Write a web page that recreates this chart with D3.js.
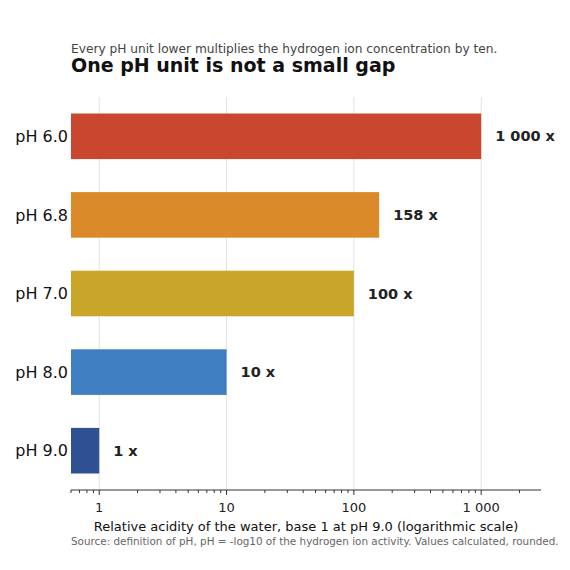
<!DOCTYPE html>
<html><head><meta charset="utf-8">
<script src="https://cdn.jsdelivr.net/npm/d3@7"></script>
<style>body{margin:0;background:#fff}text{font-family:"DejaVu Sans",sans-serif}</style>
</head><body><svg id="c" width="570" height="570"></svg>
<script>
const categories=["pH 6.0","pH 6.8","pH 7.0","pH 8.0","pH 9.0"];
const values=[1000,158,100,10,1];
const colors=["#c9472f","#db8a2a","#c9a52a","#3f7fc1","#2f5193"];
const tickValues=[1,10,100,1000];
const svg=d3.select("#c");
const fmt=v=>d3.format(",")(v).replace(/,/g," ");
const x=d3.scaleLog().domain([0.6,2950]).range([71,541]);
const y=d3.scaleBand().domain(categories).range([97,490]).paddingInner(0.42).paddingOuter(0.21);
svg.append("g").selectAll("line").data(tickValues).join("line")
 .attr("x1",d=>x(d)).attr("x2",d=>x(d)).attr("y1",97).attr("y2",490)
 .attr("stroke","#e3e3e3");
svg.append("g").selectAll("rect").data(values).join("rect")
 .attr("x",x(0.6)).attr("y",(d,i)=>y(categories[i])).attr("height",y.bandwidth())
 .attr("width",d=>x(d)-x(0.6)).attr("fill",(d,i)=>colors[i]);
svg.append("g").selectAll("text").data(values).join("text")
 .attr("x",d=>x(d)+14).attr("y",(d,i)=>y(categories[i])+y.bandwidth()/2).attr("dy","0.35em")
 .attr("font-size",14.5).attr("font-weight","bold").attr("fill","#222").text(d=>fmt(d)+" x");
svg.append("g").selectAll("text").data(categories).join("text")
 .attr("x",68).attr("y",d=>y(d)+y.bandwidth()/2).attr("dy","0.35em").attr("text-anchor","end")
 .attr("font-size",16).attr("fill","#111").text(d=>d);
const minor=[];for(let e=-1;e<4;e++)for(let k=2;k<10;k++){const v=k*10**e;if(v>=0.6&&v<=2950)minor.push(v);}
const ax=svg.append("g").attr("transform","translate(0,490)");
ax.append("line").attr("x1",71).attr("x2",541).attr("stroke","#333");
ax.selectAll(".mj").data(tickValues).join("line").attr("x1",d=>x(d)).attr("x2",d=>x(d)).attr("y2",5).attr("stroke","#333");
ax.selectAll(".mn").data(minor).join("line").attr("x1",d=>x(d)).attr("x2",d=>x(d)).attr("y2",3).attr("stroke","#333");
ax.selectAll("text").data(tickValues).join("text").attr("x",d=>x(d)).attr("y",17).attr("dy","0.35em")
 .attr("text-anchor","middle").attr("font-size",13).attr("fill","#222").text(d=>fmt(d));
svg.append("text").attr("x",306).attr("y",531).attr("text-anchor","middle").attr("font-size",13).attr("fill","#111")
 .text("Relative acidity of the water, base 1 at pH 9.0 (logarithmic scale)");
svg.append("text").attr("x",71).attr("y",545).attr("font-size",10.4).attr("fill","#666")
 .text("Source: definition of pH, pH = -log10 of the hydrogen ion activity. Values calculated, rounded.");
svg.append("text").attr("x",71).attr("y",53).attr("font-size",12.2).attr("fill","#444")
 .text("Every pH unit lower multiplies the hydrogen ion concentration by ten.");
svg.append("text").attr("x",71).attr("y",72).attr("font-size",19).attr("font-weight","bold").attr("fill","#111")
 .text("One pH unit is not a small gap");
</script></body></html>
